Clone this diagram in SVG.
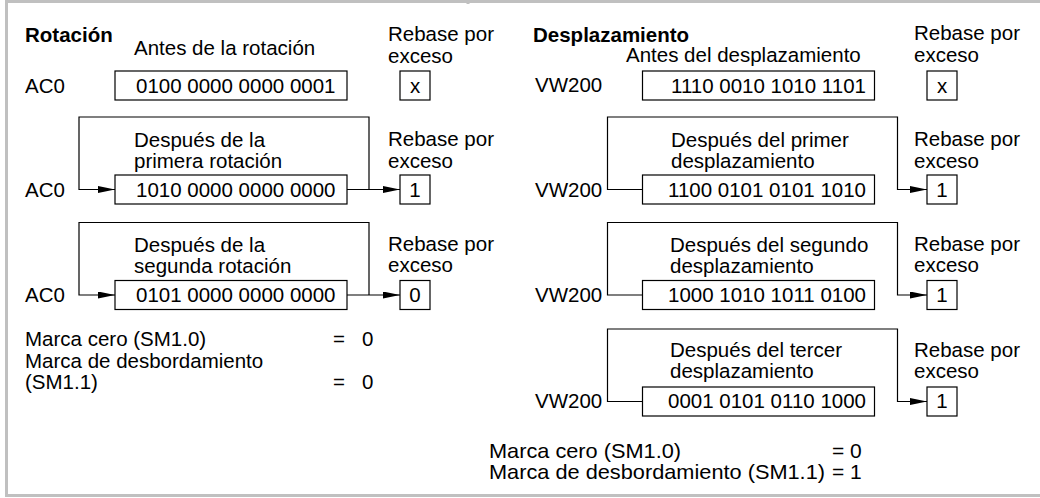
<svg xmlns="http://www.w3.org/2000/svg" width="1040" height="498" viewBox="0 0 1040 498">
<style>
.t{font-family:"Liberation Sans",Arial,sans-serif;font-size:20.5px;fill:#000}
.b{font-weight:bold}
.m{text-anchor:middle}
.f{font-size:21px}
.box{fill:#fff;stroke:#000;stroke-width:1.2}
.ln{fill:none;stroke:#000;stroke-width:1.2}
.fr{fill:none;stroke:#c0c0c0;stroke-width:3}
</style>
<defs>
<marker id="ah" markerUnits="userSpaceOnUse" markerWidth="18" markerHeight="8" refX="17" refY="3.5" orient="auto">
<path d="M0,0 L17,3.5 L0,7 z" fill="#000"/>
</marker>
</defs>
<rect width="1040" height="498" fill="#fff"/>
<g id="frame">
<path class="fr" d="M6.5,0 V495.5 H1040 M6.5,1.5 H1040 M468,0 V4"/>
</g>
<g id="connectors">
<path class="ln" d="M369,189.5 V117 H79 V189.5 H115" marker-end="url(#ah)"/>
<path class="ln" d="M347,189.5 H400" marker-end="url(#ah)"/>
<path class="ln" d="M369,295 V222.5 H79 V295 H115" marker-end="url(#ah)"/>
<path class="ln" d="M347,295 H400" marker-end="url(#ah)"/>
<path class="ln" d="M642.5,189.5 H607.5 V117 H897.5 V189.5 H927" marker-end="url(#ah)"/>
<path class="ln" d="M642.5,295 H607.5 V222.5 H897.5 V295 H927" marker-end="url(#ah)"/>
<path class="ln" d="M642.5,401.5 H607.5 V329 H897.5 V401.5 H927" marker-end="url(#ah)"/>
</g>
<g id="rotacion">
<text class="t b" x="25" y="42">Rotación</text>
<g id="rot-antes">
<text class="t" x="134" y="55">Antes de la rotación</text>
<text class="t" x="25" y="93">AC0</text>
<rect class="box" x="115" y="71" width="232" height="29"/>
<text class="t" x="136" y="93">0100 0000 0000 0001</text>
</g>
<g id="rot-ovf0">
<text class="t" x="388" y="41">Rebase por</text>
<text class="t" x="388" y="62.5">exceso</text>
<rect class="box" x="400" y="71" width="30" height="29"/>
<text class="t m" x="415" y="93">x</text>
</g>
<g id="rot-1">
<text class="t" x="134" y="147">Después de la</text>
<text class="t" x="134" y="168">primera rotación</text>
<text class="t" x="25" y="197">AC0</text>
<rect class="box" x="115" y="175" width="232" height="29"/>
<text class="t" x="136" y="197">1010 0000 0000 0000</text>
</g>
<g id="rot-ovf1">
<text class="t" x="388" y="146">Rebase por</text>
<text class="t" x="388" y="167.5">exceso</text>
<rect class="box" x="400" y="175" width="30" height="29"/>
<text class="t m" x="415" y="197">1</text>
</g>
<g id="rot-2">
<text class="t" x="134" y="252">Después de la</text>
<text class="t" x="134" y="273">segunda rotación</text>
<text class="t" x="25" y="302">AC0</text>
<rect class="box" x="115" y="280.5" width="232" height="29"/>
<text class="t" x="136" y="302">0101 0000 0000 0000</text>
</g>
<g id="rot-ovf2">
<text class="t" x="388" y="251">Rebase por</text>
<text class="t" x="388" y="272">exceso</text>
<rect class="box" x="400" y="280.5" width="30" height="29"/>
<text class="t m" x="415" y="302">0</text>
</g>
<g id="rot-flags">
<text class="t" x="25" y="346">Marca cero (SM1.0)</text>
<text class="t" x="333" y="346">=</text>
<text class="t" x="362" y="346">0</text>
<text class="t" x="25" y="367.5">Marca de desbordamiento</text>
<text class="t" x="25" y="389">(SM1.1)</text>
<text class="t" x="333" y="389">=</text>
<text class="t" x="362" y="389">0</text>
</g>
</g>
<g id="desplazamiento">
<text class="t b" x="533" y="42">Desplazamiento</text>
<g id="sh-antes">
<text class="t" x="626" y="62">Antes del desplazamiento</text>
<text class="t" x="535" y="92">VW200</text>
<rect class="box" x="642.5" y="71" width="232" height="29"/>
<text class="t" x="671" y="93">1110 0010 1010 1101</text>
</g>
<g id="sh-ovf0">
<text class="t" x="914" y="40">Rebase por</text>
<text class="t" x="914" y="62">exceso</text>
<rect class="box" x="927" y="71" width="30" height="29"/>
<text class="t m" x="942" y="93">x</text>
</g>
<g id="sh-1">
<text class="t" x="671" y="147">Después del primer</text>
<text class="t" x="671" y="168">desplazamiento</text>
<text class="t" x="535" y="197">VW200</text>
<rect class="box" x="642.5" y="175" width="232" height="29"/>
<text class="t" x="668" y="197">1100 0101 0101 1010</text>
</g>
<g id="sh-ovf1">
<text class="t" x="914" y="146">Rebase por</text>
<text class="t" x="914" y="167.5">exceso</text>
<rect class="box" x="927" y="175" width="30" height="29"/>
<text class="t m" x="942" y="197">1</text>
</g>
<g id="sh-2">
<text class="t" x="670" y="252">Después del segundo</text>
<text class="t" x="670" y="273">desplazamiento</text>
<text class="t" x="535" y="302">VW200</text>
<rect class="box" x="642.5" y="280.5" width="232" height="29"/>
<text class="t" x="668" y="302">1000 1010 1011 0100</text>
</g>
<g id="sh-ovf2">
<text class="t" x="914" y="251">Rebase por</text>
<text class="t" x="914" y="272">exceso</text>
<rect class="box" x="927" y="280.5" width="30" height="29"/>
<text class="t m" x="942" y="302">1</text>
</g>
<g id="sh-3">
<text class="t" x="670" y="357">Después del tercer</text>
<text class="t" x="670" y="378">desplazamiento</text>
<text class="t" x="535" y="408">VW200</text>
<rect class="box" x="642.5" y="387" width="232" height="29"/>
<text class="t" x="668" y="408">0001 0101 0110 1000</text>
</g>
<g id="sh-ovf3">
<text class="t" x="914" y="357">Rebase por</text>
<text class="t" x="914" y="378">exceso</text>
<rect class="box" x="927" y="387" width="30" height="29"/>
<text class="t m" x="942" y="408">1</text>
</g>
<g id="sh-flags">
<text class="t f" x="489" y="457.5" textLength="192" lengthAdjust="spacingAndGlyphs">Marca cero (SM1.0)</text>
<text class="t f" x="832" y="457.5">= 0</text>
<text class="t f" x="489" y="479" textLength="336" lengthAdjust="spacingAndGlyphs">Marca de desbordamiento (SM1.1)</text>
<text class="t f" x="832" y="479">= 1</text>
</g>
</g>
</svg>
